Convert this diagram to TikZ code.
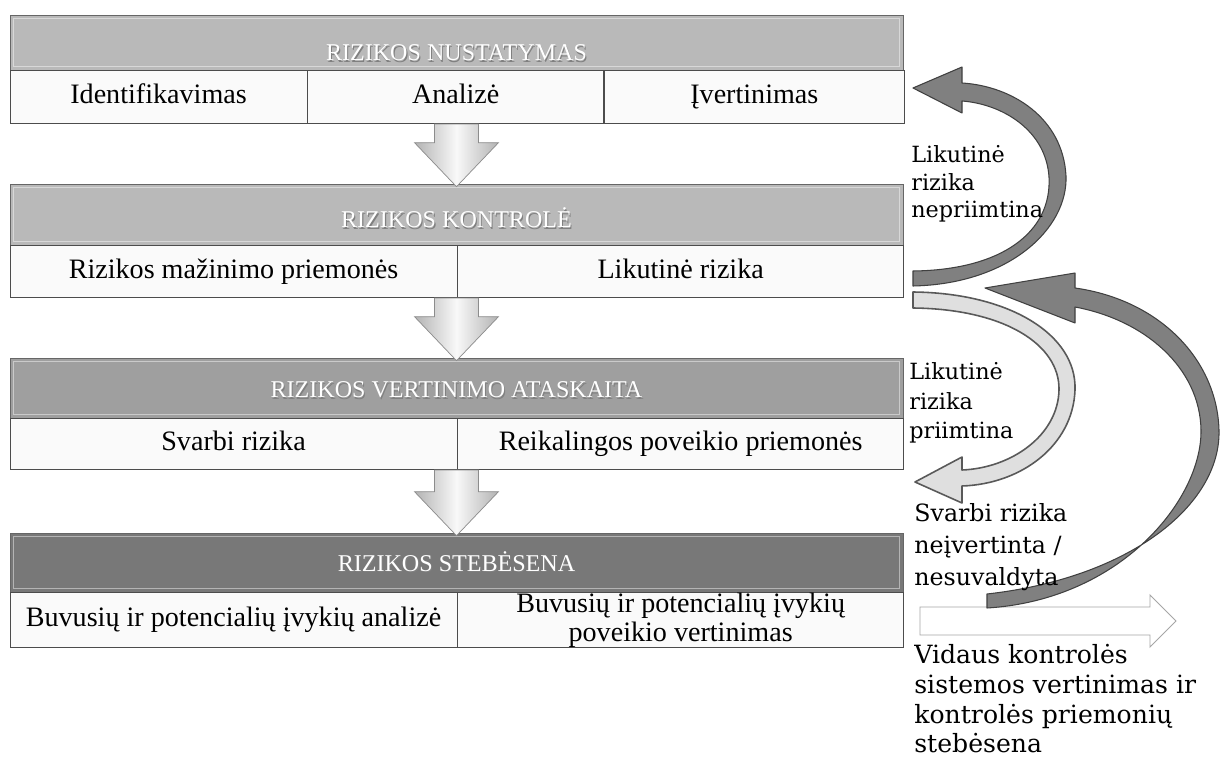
\documentclass[tikz,border=0pt]{standalone}
\usepackage{fontspec}
\setmainfont{Liberation Serif}
\newfontfamily\sidefont{DejaVu Serif}
\usepackage{tikz}
\usetikzlibrary{calc,positioning}
\newcommand{\emb}[1]{\makebox[0pt][l]{\raisebox{-0.6pt}{\hspace*{0.6pt}\textcolor{black!50}{#1}}}\textcolor{white}{#1}}
\newcommand{\blockdown}[2]{%
  \path[downfill] let \p1=(#1.south), \p2=(#2.north) in
    (\x2-0.44cm,\y1) -- (\x2-0.44cm,\y2+0.82cm) -- (\x2-0.84cm,\y2+0.82cm) -- (\x2,\y2-0.06cm)
    -- (\x2+0.84cm,\y2+0.82cm) -- (\x2+0.44cm,\y2+0.82cm) -- (\x2+0.44cm,\y1) -- cycle;}
\tikzset{
  hdbox/.style={draw=black!60, minimum width=17.86cm, inner sep=0pt,
    font=\fontsize{13.7}{16}\selectfont},
  cell/.style={draw=black!70, fill=gray!4, inner sep=0pt, anchor=north west,
    font=\fontsize{16}{16.5}\selectfont, align=center},
  oneline/.style={text height=11pt, text depth=3.5pt},
  downfill/.style={draw=black!45, left color=gray!60, right color=gray!60, middle color=gray!5},
  curvdark/.style={fill=black!50, draw=black!75, line width=0.6pt, line join=round},
  curvlight/.style={fill=gray!25, draw=black!65, line width=0.9pt, line join=round},
  openarrow/.style={fill=white, draw=gray!70, line width=0.5pt},
  sidelbl/.style={inner sep=0pt, anchor=west, align=left}
}

\begin{document}
\begin{tikzpicture}[x=0.02cm, y=-0.02cm]
\useasboundingbox[fill=white] (0,0) rectangle (1221,760);

%first block
\node[hdbox, fill=gray!55, minimum height=1.1cm, text height=0.92cm, text depth=0.18cm] (hdNust) at (456.5,42.5) {\emb{RIZIKOS NUSTATYMAS}};
\node[cell, oneline, minimum width=5.94cm, minimum height=1.06cm] (idf) at (hdNust.south west) {Identifikavimas};
\node[cell, oneline, minimum width=5.92cm, minimum height=1.06cm] (anl) at (idf.north east) {Analizė};
\node[cell, oneline, minimum width=6cm, minimum height=1.06cm] (ivt) at (anl.north east) {Įvertinimas};

%second block
\node[hdbox, fill=gray!55, minimum height=1.22cm, text height=0.88cm, text depth=0.34cm] (hdKontr) at (456.5,214.5) {\emb{RIZIKOS KONTROLĖ}};
\node[cell, oneline, minimum width=8.94cm, minimum height=1.04cm] (maz) at (hdKontr.south west) {Rizikos mažinimo priemonės};
\node[cell, oneline, minimum width=8.92cm, minimum height=1.04cm] (lik) at (maz.north east) {Likutinė rizika};

%third block
\node[hdbox, fill=gray!75, minimum height=1.2cm, text height=0.8cm, text depth=0.4cm] (hdAtask) at (456.5,388) {\emb{RIZIKOS VERTINIMO ATASKAITA}};
\node[cell, oneline, minimum width=8.94cm, minimum height=1.02cm] (svr) at (hdAtask.south west) {Svarbi rizika};
\node[cell, oneline, minimum width=8.92cm, minimum height=1.02cm] (reik) at (svr.north east) {Reikalingos poveikio priemonės};

%fourth block
\node[hdbox, fill=black!53, minimum height=1.18cm, text height=0.76cm, text depth=0.42cm] (hdSteb) at (456.5,562.5) {\emb{RIZIKOS STEBĖSENA}};
\node[cell, oneline, minimum width=8.94cm, minimum height=1.1cm] (buvA) at (hdSteb.south west) {Buvusių ir potencialių įvykių analizė};
\node[cell, minimum width=8.92cm, minimum height=1.1cm] (buvB) at (buvA.north east) {Buvusių ir potencialių įvykių\\poveikio vertinimas};

%bevel lines in the headers
\foreach \h in {hdNust,hdKontr,hdAtask,hdSteb}
  \draw[white, opacity=0.45, line width=0.8pt] ($(\h.north west)+(4,4)$) rectangle ($(\h.south east)+(-4,-4)$);

%arrows between blocks
\blockdown{anl}{hdKontr}
\blockdown{maz}{hdAtask}
\blockdown{svr}{hdSteb}

%open arrow at the bottom
\draw[openarrow] (920,607) -- (1150,607) -- (1150,595) -- (1176,621) -- (1150,647) -- (1150,635) -- (920,635) -- cycle;

%curved arrows on the right
\filldraw[curvdark] (987,594) .. controls (1130,578) and (1221,505) .. (1219,430) .. controls (1217,360) and (1160,300) .. (1075,288) -- (1075,273) -- (985,288) -- (1075,323) -- (1075,307) .. controls (1145,320) and (1200,368) .. (1201,430) .. controls (1202,500) and (1120,600) .. (987,608) -- cycle;
\filldraw[curvlight] (913,292) .. controls (1010,293) and (1077,335) .. (1075,390) .. controls (1073,445) and (1022,484) .. (962,486) -- (962,503) -- (915,482) -- (962,457) -- (962,470) .. controls (1012,468) and (1058,435) .. (1059,390) .. controls (1060,345) and (1005,309) .. (913,308) -- cycle;
\filldraw[curvdark] (913,286) .. controls (1010,284) and (1068,228) .. (1066,176) .. controls (1063,118) and (1012,86) .. (962,83) -- (962,67) -- (913,88) -- (962,113) -- (962,101) .. controls (1002,104) and (1046,130) .. (1049,177) .. controls (1052,232) and (1002,270) .. (913,271) -- cycle;

%labels
\node[sidelbl, font=\sidefont\fontsize{12.7}{15.5}\selectfont] (lblNepr) at (911,184) {Likutinė\\rizika\\nepriimtina};
\node[sidelbl, font=\sidefont\fontsize{12.7}{16.8}\selectfont] (lblPriim) at (909,403) {Likutinė\\rizika\\priimtina};
\node[sidelbl, font=\sidefont\fontsize{13.5}{18}\selectfont] (lblNeiv) at (914,547) {Svarbi rizika\\neįvertinta /\\nesuvaldyta};
\node[sidelbl, font=\sidefont\fontsize{14.3}{16.9}\selectfont] (lblVid) at (914,699) {Vidaus kontrolės\\sistemos vertinimas ir\\kontrolės priemonių\\stebėsena};
\end{tikzpicture}
\end{document}
